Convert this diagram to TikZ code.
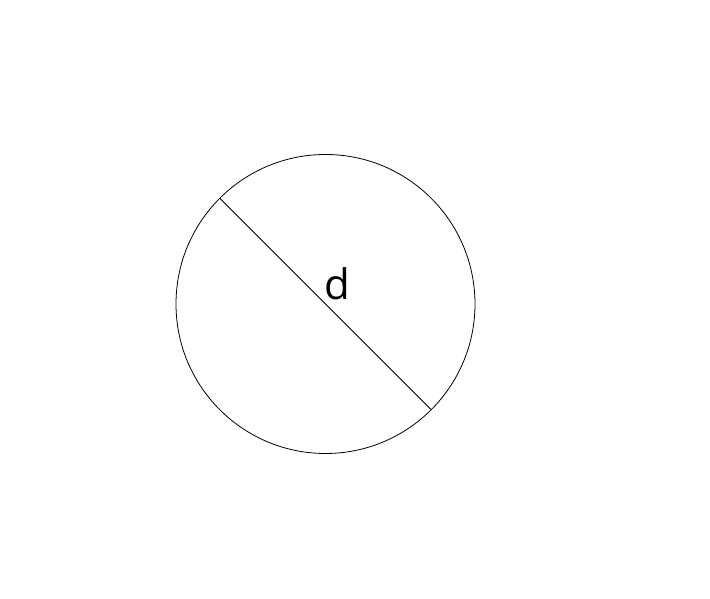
\documentclass[tikz,border=0pt]{standalone}
\usepackage{fontspec}
\setmainfont{Open Sans}
\usetikzlibrary{calc}
\begin{document}
\begin{tikzpicture}[x=1pt,y=1pt,
  shape line/.style={draw=black, line width=0.8pt},
  lbl/.style={inner sep=0pt, font=\fontsize{42}{42}\selectfont}]
\useasboundingbox (0,0) rectangle (710,599);
\coordinate (c) at (325.5,295);
\draw[shape line] (c) circle[radius=149.5];
\coordinate (p1) at ($(c)+(135:149.5)$);
\coordinate (p2) at ($(c)+(-45:149.5)$);
\draw[shape line] (p1) -- (p2);
\node[lbl, anchor=base] (d) at (337,299) {d};
\end{tikzpicture}
\end{document}
